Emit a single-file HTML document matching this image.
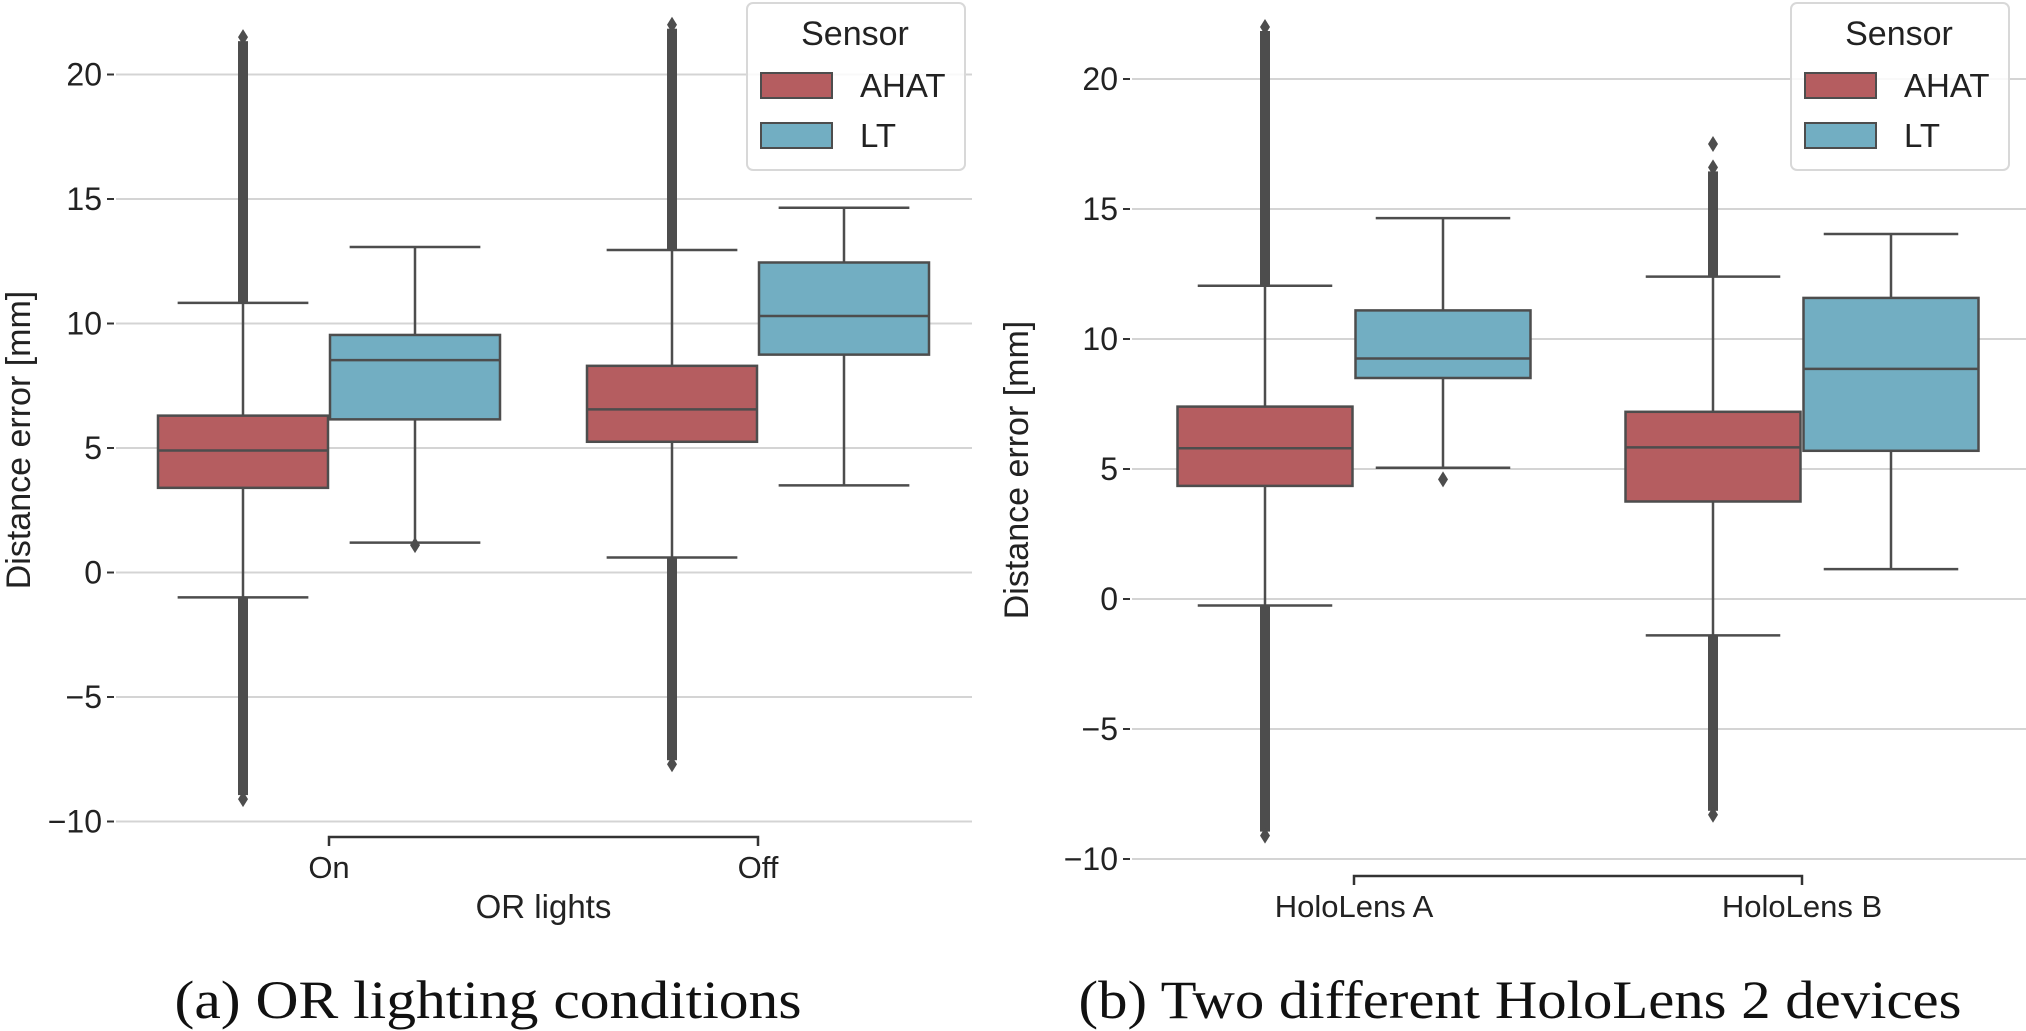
<!DOCTYPE html>
<html><head><meta charset="utf-8"><style>
html,body{margin:0;padding:0;background:#fff;}
svg{display:block;font-family:"Liberation Sans",Arial,sans-serif;}
</style></head><body>
<svg id="chart" width="2026" height="1031" viewBox="0 0 2026 1031" xmlns="http://www.w3.org/2000/svg">
<g id="pa"></g>
<g id="pb"></g>
</svg>
<script>
const sensors = ["AHAT","LT"];
const yTicks = [-10,-5,0,5,10,15,20];
const catsA = ["On","Off"];
// per category: [AHAT, LT]
const lowA  = [[-1.0,1.2],[0.6,3.5]];
const q1A   = [[3.4,6.15],[5.25,8.75]];
const medA  = [[4.9,8.53],[6.55,10.3]];
const q3A   = [[6.3,9.54],[8.3,12.45]];
const highA = [[10.83,13.07],[12.95,14.65]];
const outHiA = [[21.5,null],[22.0,null]];
const outLoA = [[-9.1,1.1],[-7.7,null]];
const catsB = ["HoloLens A","HoloLens B"];
const lowB  = [[-0.25,5.05],[-1.4,1.15]];
const q1B   = [[4.35,8.5],[3.75,5.7]];
const medB  = [[5.8,9.25],[5.83,8.85]];
const q3B   = [[7.4,11.1],[7.2,11.58]];
const highB = [[12.05,14.65],[12.4,14.04]];
const outHiB = [[22.0,null],[16.6,null]];
const outLoB = [[-9.1,4.6],[-8.3,null]];
const sparseHiB = [[null,null],[17.5,null]];

const NS="http://www.w3.org/2000/svg";
const COLORS=["#b55d60","#72aec2"], EDGE="#4d4d4d";
function el(parent,tag,attrs,text){const e=document.createElementNS(NS,tag);for(const k in attrs)e.setAttribute(k,attrs[k]);if(text!==undefined)e.textContent=text;parent.appendChild(e);return e;}

function panel(g,cfg){
  const y=v=>cfg.y0-cfg.k*v;
  yTicks.forEach(t=>{
    const gl=el(g,"line",{x1:cfg.gx0,x2:cfg.gx1,y1:y(t),y2:y(t),stroke:"#d4d4d4","stroke-width":2});
    
    
    el(g,"line",{x1:cfg.gx0-9,x2:cfg.gx0-2,y1:y(t),y2:y(t),stroke:"#333","stroke-width":2});
    const tl=el(g,"text",{x:cfg.gx0-14,y:y(t)+11,"text-anchor":"end","font-size":32,fill:"#222"},t<0?"\u2212"+(-t):String(t));
    
    
  });
  const yt=el(g,"text",{x:0,y:0,transform:`translate(${cfg.ylx},${cfg.yly}) rotate(-90)`,"text-anchor":"middle","font-size":34,fill:"#222"},"Distance error [mm]");
  
  
  cfg.cats.forEach((c,i)=>{
    const cx=cfg.cx0+i*cfg.step;
    for(let s=0;s<2;s++){
      const bx=cx+(s===0?-cfg.off:cfg.off);
      const hw=cfg.bw/2, ww=cfg.bw*0.38;
      const grp=el(g,"g",{});
      
      
      el(grp,"line",{x1:bx,x2:bx,y1:y(cfg.high[i][s]),y2:y(cfg.q3[i][s]),stroke:EDGE,"stroke-width":2.5});
      el(grp,"line",{x1:bx,x2:bx,y1:y(cfg.q1[i][s]),y2:y(cfg.low[i][s]),stroke:EDGE,"stroke-width":2.5});
      el(grp,"line",{x1:bx-ww,x2:bx+ww,y1:y(cfg.high[i][s]),y2:y(cfg.high[i][s]),stroke:EDGE,"stroke-width":2.5});
      el(grp,"line",{x1:bx-ww,x2:bx+ww,y1:y(cfg.low[i][s]),y2:y(cfg.low[i][s]),stroke:EDGE,"stroke-width":2.5});
      el(grp,"rect",{x:bx-hw+1,y:y(cfg.q3[i][s]),width:cfg.bw-2,height:y(cfg.q1[i][s])-y(cfg.q3[i][s]),fill:COLORS[s],stroke:EDGE,"stroke-width":2.5});
      el(grp,"line",{x1:bx-hw+1,x2:bx+hw-1,y1:y(cfg.med[i][s]),y2:y(cfg.med[i][s]),stroke:EDGE,"stroke-width":2.5});
      const dia=(v)=>el(grp,"path",{d:`M${bx} ${y(v)-8} L${bx+5} ${y(v)} L${bx} ${y(v)+8} L${bx-5} ${y(v)} Z`,fill:EDGE});
      const hi=cfg.outHi[i][s], lo=cfg.outLo[i][s];
      if(hi!==null){
        if(hi>cfg.high[i][s]+1) el(grp,"rect",{x:bx-5,y:y(hi)+4,width:10,height:y(cfg.high[i][s])-y(hi)-4,fill:EDGE});
        dia(hi);
      }
      if(lo!==null){
        if(lo<cfg.low[i][s]-1) el(grp,"rect",{x:bx-5,y:y(cfg.low[i][s]),width:10,height:y(lo)-y(cfg.low[i][s])-4,fill:EDGE});
        dia(lo);
      }
      if(cfg.sparse && cfg.sparse[i][s]!==null) dia(cfg.sparse[i][s]);
    }
  });
  const x0=cfg.cx0, x1=cfg.cx0+cfg.step*(cfg.cats.length-1);
  const ax=el(g,"path",{d:`M${x0} ${cfg.axY+9} V${cfg.axY} H${x1} V${cfg.axY+9}`,fill:"none",stroke:"#333","stroke-width":2.5});
  
  
  cfg.cats.forEach((c,i)=>{
    const t=el(g,"text",{x:cfg.cx0+i*cfg.step,y:cfg.labY,"text-anchor":"middle","font-size":31,fill:"#222"},c);
    
    
  });
  if(cfg.xtitle){
    const t=el(g,"text",{x:(x0+x1)/2,y:cfg.labY+40,"text-anchor":"middle","font-size":33,fill:"#222"},cfg.xtitle);
    
    
  }
  const lg=el(g,"g",{});
  
  
  el(lg,"rect",{x:cfg.lx,y:3,width:218,height:167,rx:6,fill:"#fff","fill-opacity":0.85,stroke:"#d8d8d8","stroke-width":2});
  el(lg,"text",{x:cfg.lx+108,y:45,"text-anchor":"middle","font-size":34,fill:"#222"},"Sensor");
  sensors.forEach((s,j)=>{
    const e=el(lg,"g",{});
    
    
    el(e,"rect",{x:cfg.lx+14,y:73+j*50,width:71,height:25,fill:COLORS[j],stroke:EDGE,"stroke-width":2});
    el(e,"text",{x:cfg.lx+113,y:97+j*50,"font-size":33,fill:"#222"},s);
  });
  const cap=el(g,"text",{x:cfg.capX,y:1018,"text-anchor":"middle","font-size":54,fill:"#111","font-family":"Liberation Serif, serif",textLength:cfg.capW,lengthAdjust:"spacingAndGlyphs"},cfg.caption);
  
  
}

panel(document.getElementById('pa'),{y0:572.5,k:24.9,gx0:116,gx1:972,ylx:30,yly:440,cats:catsA,cx0:329,step:429,off:86,bw:172,
 low:lowA,q1:q1A,med:medA,q3:q3A,high:highA,outHi:outHiA,outLo:outLoA,axY:837,labY:878,xtitle:"OR lights",lx:747,
 capX:488,capW:627,caption:"(a) OR lighting conditions"});
panel(document.getElementById('pb'),{y0:599,k:26,gx0:1132,gx1:2026,ylx:1028,yly:470,cats:catsB,cx0:1354,step:448,off:89,bw:177,
 low:lowB,q1:q1B,med:medB,q3:q3B,high:highB,outHi:outHiB,outLo:outLoB,sparse:sparseHiB,axY:876,labY:917,xtitle:null,lx:1791,
 capX:1520,capW:883,caption:"(b) Two different HoloLens 2 devices"});
</script>
</body></html>
